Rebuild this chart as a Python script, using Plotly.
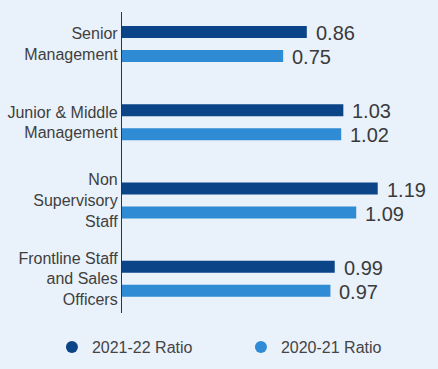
import plotly.graph_objects as go

categories = ["Senior<br>Management", "Junior & Middle<br>Management",
              "Non<br>Supervisory<br>Staff", "Frontline Staff<br>and Sales<br>Officers"]
ratio_2122 = [0.86, 1.03, 1.19, 0.99]
ratio_2021 = [0.75, 1.02, 1.09, 0.97]
series_names = ["2021-22 Ratio", "2020-21 Ratio"]
colors = ["#0b4587", "#2f8bd4"]

BG = "#e9f1fa"
FONT = "Liberation Sans, Arial, Helvetica, sans-serif"

fig = go.Figure()
for name, vals, col in zip(series_names, [ratio_2122, ratio_2021], colors):
    fig.add_trace(go.Bar(y=categories, x=vals, orientation="h", name=name,
                         marker=dict(color=col, line=dict(width=0)),
                         showlegend=False, hoverinfo="skip"))
# legend entries with round markers
for name, col in zip(series_names, colors):
    fig.add_trace(go.Scatter(x=[None], y=[None], mode="markers", name=name,
                             marker=dict(symbol="circle", size=12, color=col)))

# value labels
annotations = []
for k, vals in enumerate([ratio_2122, ratio_2021]):
    for i, v in enumerate(vals):
        annotations.append(dict(
            x=v, y=i + (-0.5 + k) * 0.3065, xref="x", yref="y",
            text=f"{v:.2f}", showarrow=False, xanchor="left", yanchor="middle",
            xshift=7, yshift=-1,
            font=dict(size=20, color="#3a3a3a", family=FONT)))

fig.update_layout(
    width=438, height=369,
    paper_bgcolor=BG, plot_bgcolor=BG,
    margin=dict(l=122, r=10, t=12, b=56, autoexpand=False),
    barmode="group", bargap=0.387, bargroupgap=0.5,
    font=dict(family=FONT, color="#3f3f3f", size=16),
    annotations=annotations,
    legend=dict(orientation="h", x=-0.229, xanchor="left", y=-0.113, yanchor="middle",
                font=dict(size=16, color="#444444"), itemwidth=30,
                entrywidth=144, entrywidthmode="pixels",
                bgcolor="rgba(0,0,0,0)"),
    showlegend=True,
)
fig.update_xaxes(range=[0, 1.424], visible=False, showgrid=False, zeroline=False)
fig.update_yaxes(type="category", categoryorder="array", categoryarray=categories,
                 range=[3.436, -0.409], showline=True, linecolor="#333333", linewidth=1.2,
                 ticks="", showgrid=False, zeroline=False,
                 tickfont=dict(size=16, color="#3f3f3f", family=FONT))
fig.write_html("out.html", config={"displayModeBar": False},
               post_script="document.body.style.margin='0';")
